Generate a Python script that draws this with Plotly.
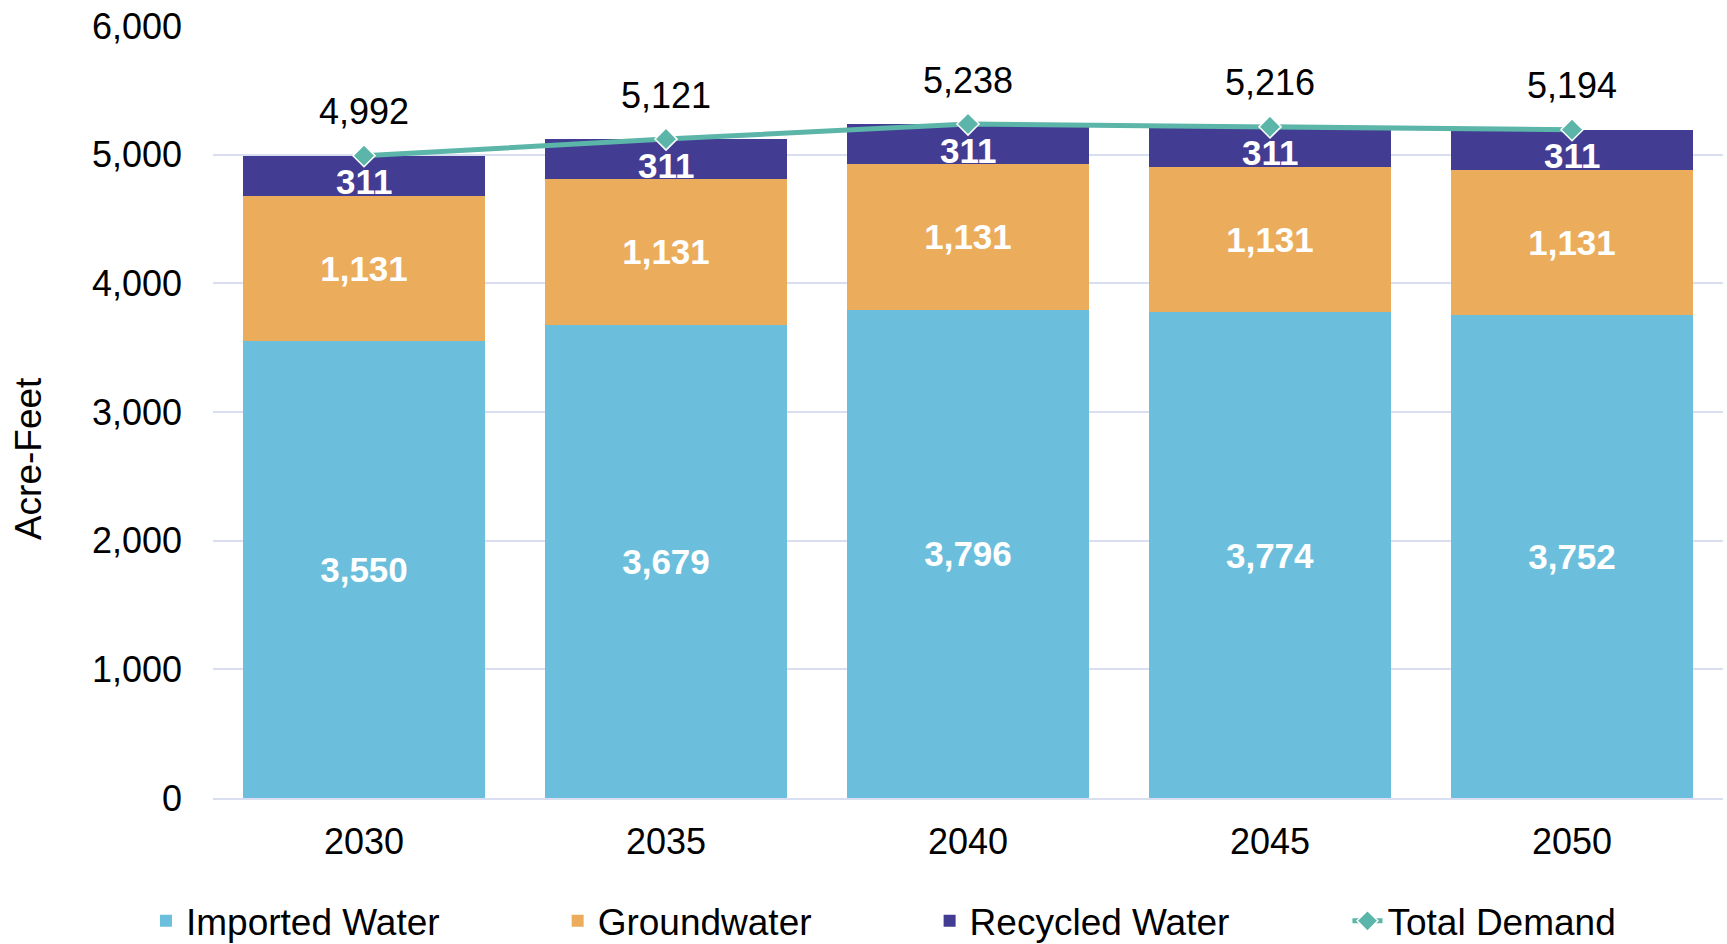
import plotly.graph_objects as go

years = ["2030", "2035", "2040", "2045", "2050"]
imported = [3550, 3679, 3796, 3774, 3752]
groundwater = [1131, 1131, 1131, 1131, 1131]
recycled = [311, 311, 311, 311, 311]
total = [4992, 5121, 5238, 5216, 5194]

FONT = "Liberation Sans, Arial, sans-serif"
C_IMP = "#6BBFDD"
C_GW = "#EBAD5C"
C_REC = "#433C93"
C_TOT = "#5BB5A8"
PAD = "\u00a0" * 11

def fmt(v):
    return f"{v:,}"

fig = go.Figure()
for name, vals, col, show_text in [("Imported Water", imported, C_IMP, True),
                                   ("Groundwater", groundwater, C_GW, True),
                                   ("Recycled Water", recycled, C_REC, False)]:
    fig.add_trace(go.Bar(
        x=years, y=vals, name=name + PAD, marker=dict(color=col, line=dict(width=0)),
        text=[fmt(v) for v in vals] if show_text else None,
        textposition="inside" if show_text else "none", insidetextanchor="middle",
        constraintext="none", textangle=0,
        textfont=dict(family=FONT, size=35, color="white", weight="bold"),
        hoverinfo="skip",
    ))

fig.add_trace(go.Scatter(
    x=years, y=total, name="Total Demand", mode="lines+markers",
    line=dict(color=C_TOT, width=5),
    marker=dict(symbol="diamond", size=17, color=C_TOT, line=dict(color="white", width=1.5)),
    cliponaxis=False,
))

# on a category axis, annotation x is the category's serial index
annotations = [dict(x=i, y=v, xref="x", yref="y", text=fmt(v), showarrow=False,
                    yanchor="middle", yshift=44,
                    font=dict(family=FONT, size=36, color="black"))
               for i, v in enumerate(total)]
# recycled-water labels (sit slightly below the segment centre, as in the original)
annotations += [dict(x=i, y=imp + gw + rec / 2, xref="x", yref="y", text=fmt(rec),
                     showarrow=False, yanchor="middle", yshift=-6,
                     font=dict(family=FONT, size=35, color="white", weight="bold"))
                for i, (imp, gw, rec) in enumerate(zip(imported, groundwater, recycled))]
annotations.append(dict(x=0, y=0.439, xref="paper", yref="paper", text="Acre-Feet",
                        textangle=-90, showarrow=False, xanchor="center", yanchor="middle",
                        xshift=-185, font=dict(family=FONT, size=37, color="black")))

fig.update_layout(
    width=1727, height=944,
    barmode="stack", bargap=0.2,
    plot_bgcolor="white", paper_bgcolor="white",
    margin=dict(l=213, r=4, t=26, b=146, autoexpand=False),
    font=dict(family=FONT, size=36, color="black"),
    xaxis=dict(type="category", showgrid=False, showline=True, linecolor="#D9DEF0", linewidth=2,
               ticks="", tickfont=dict(size=36), ticklabelstandoff=11),
    yaxis=dict(range=[0, 6000], dtick=1000, tick0=0, tickformat=",", showgrid=True,
               gridcolor="#D9DEF0", gridwidth=1.5, zeroline=False, ticks="",
               tickfont=dict(size=36), ticklabelstandoff=30),
    legend=dict(orientation="h", x=-0.0444, xanchor="left", y=-0.1597, yanchor="middle",
                font=dict(size=37), traceorder="normal"),
    annotations=annotations,
    showlegend=True,
)

fig.write_html("out.html", config={"displayModeBar": False},
               post_script="document.body.style.margin='0px';document.body.style.overflow='hidden';")
